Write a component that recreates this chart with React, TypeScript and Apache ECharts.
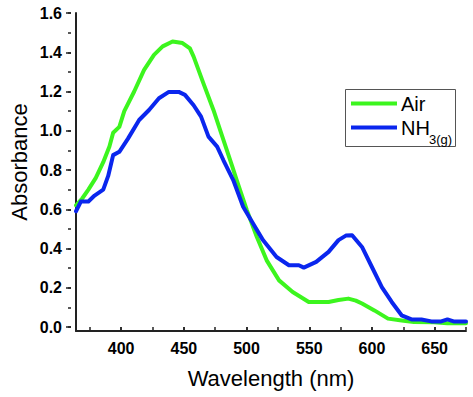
import React, { useEffect, useRef } from "react";
import * as echarts from "echarts";

// ---- Data ----
const airWavelength = [360, 365, 370, 376, 382, 387, 390, 395, 399, 407, 415, 423, 430, 438, 446, 452, 455, 463, 471, 479, 486, 490, 498, 506, 514, 524, 535, 548, 564, 572, 580, 586, 591, 601, 612, 623, 633, 649, 660, 675];
const airAbsorbance = [0.62, 0.655, 0.7, 0.76, 0.84, 0.92, 0.99, 1.02, 1.1, 1.2, 1.31, 1.387, 1.43, 1.455, 1.447, 1.42, 1.378, 1.24, 1.106, 0.955, 0.822, 0.745, 0.596, 0.46, 0.34, 0.238, 0.179, 0.128, 0.128, 0.138, 0.145, 0.135, 0.12, 0.085, 0.043, 0.034, 0.026, 0.024, 0.02, 0.02];

const nh3Wavelength = [360, 364, 370, 375, 382, 386, 390, 395, 402, 411, 419, 427, 435, 443, 448, 455, 461, 467, 474, 479, 483, 487, 495, 503, 511, 522, 532, 540, 544, 554, 564, 572, 578, 583, 591, 599, 607, 615, 623, 631, 639, 647, 655, 660, 665, 675];
const nh3Absorbance = [0.59, 0.64, 0.64, 0.67, 0.7, 0.77, 0.876, 0.893, 0.96, 1.055, 1.106, 1.166, 1.198, 1.198, 1.183, 1.13, 1.072, 0.97, 0.919, 0.851, 0.8, 0.749, 0.613, 0.528, 0.443, 0.357, 0.315, 0.315, 0.303, 0.332, 0.383, 0.443, 0.466, 0.468, 0.408, 0.306, 0.204, 0.128, 0.06, 0.039, 0.039, 0.029, 0.029, 0.039, 0.029, 0.029];

const seriesNames = ["Air", "NH3(g)"];
const xTitle = "Wavelength (nm)";
const yTitle = "Absorbance";

// ---- Layout / style ----
const CW = 473;
const CH = 397;
const X_MIN = 360;
const X_MAX = 675;
const Y_MIN = -0.02;
const Y_MAX = 1.6;
const L = 71;
const R = 7;
const T = 13;
const B = 66;
const kx = (CW - L - R) / (X_MAX - X_MIN);
const ky = (CH - T - B) / (Y_MAX - Y_MIN);
const yZeroOff = (0 - Y_MIN) * ky;

const GREEN = "#3CF51E";
const BLUE = "#0A26EE";
const AXIS = "#222";
const FONT = "'Liberation Sans', Arial, sans-serif";

const zip = (xs: number[], ys: number[]) => xs.map((x, i) => [x, ys[i]]);

export default function App() {
  const ref = useRef<HTMLDivElement>(null);
  useEffect(() => {
    if (!ref.current) return;
    const chart = echarts.init(ref.current, undefined, { renderer: "svg" });
    const hidden = { show: false };
    const tickLabel = { fontFamily: FONT, fontWeight: "bold" as const, fontSize: 16, color: "#000" };
    chart.setOption({
      animation: false,
      backgroundColor: "#fff",
      grid: [
        { left: L, right: R, top: T, bottom: B },
        { left: L + (375 - X_MIN) * kx, right: R, top: T, bottom: B + yZeroOff },
        { left: L + (400 - X_MIN) * kx, right: R + (X_MAX - 650) * kx, top: T, bottom: B + yZeroOff },
      ],
      xAxis: [
        {
          type: "value", gridIndex: 0, min: X_MIN, max: X_MAX,
          axisLine: { show: true, onZero: false, lineStyle: { color: AXIS, width: 2 } },
          axisTick: hidden, axisLabel: hidden, splitLine: hidden,
          name: xTitle, nameLocation: "middle", nameGap: 36,
          nameTextStyle: { fontFamily: FONT, fontSize: 22, color: "#000" },
        },
        {
          type: "value", gridIndex: 1, min: 375, max: 675, interval: 25, offset: yZeroOff,
          axisLine: hidden, axisLabel: hidden, splitLine: hidden,
          axisTick: { show: true, length: 3, lineStyle: { color: AXIS, width: 1.5 } },
        },
        {
          type: "value", gridIndex: 2, min: 400, max: 650, interval: 50, offset: yZeroOff,
          axisLine: hidden, splitLine: hidden,
          axisTick: { show: true, length: 5, lineStyle: { color: AXIS, width: 1.5 } },
          axisLabel: { ...tickLabel, margin: 9 },
        },
      ],
      yAxis: [
        {
          type: "value", gridIndex: 0, min: Y_MIN, max: Y_MAX,
          axisLine: { show: true, onZero: false, lineStyle: { color: AXIS, width: 2 } },
          axisTick: hidden, axisLabel: hidden, splitLine: hidden,
          name: yTitle, nameLocation: "middle", nameGap: 46, nameRotate: 90,
          nameTextStyle: { fontFamily: FONT, fontSize: 22, color: "#000", padding: [0, 0, 0, 20] },
        },
        {
          type: "value", gridIndex: 1, min: 0, max: 1.6, interval: 0.1, offset: (375 - X_MIN) * kx,
          axisLine: hidden, axisLabel: hidden, splitLine: hidden,
          axisTick: { show: true, length: 3, lineStyle: { color: AXIS, width: 1.5 } },
        },
        {
          type: "value", gridIndex: 2, min: 0, max: 1.6, interval: 0.2, offset: (400 - X_MIN) * kx,
          axisLine: hidden, splitLine: hidden,
          axisTick: { show: true, length: 5, lineStyle: { color: AXIS, width: 1.5 } },
          axisLabel: { ...tickLabel, margin: 9, formatter: (v: number) => v.toFixed(1) },
        },
      ],
      series: [
        {
          name: seriesNames[0], type: "line", xAxisIndex: 0, yAxisIndex: 0,
          data: zip(airWavelength, airAbsorbance), symbol: "none",
          lineStyle: { color: GREEN, width: 4, join: "round", cap: "round" },
        },
        {
          name: seriesNames[1], type: "line", xAxisIndex: 0, yAxisIndex: 0,
          data: zip(nh3Wavelength, nh3Absorbance), symbol: "none",
          lineStyle: { color: BLUE, width: 4, join: "round", cap: "round" },
        },
      ],
      graphic: [
        {
          type: "group", left: 345, top: 89,
          children: [
            { type: "rect", shape: { x: 0.5, y: 0.5, width: 110, height: 57 }, style: { fill: "#fff", stroke: "#555", lineWidth: 1 } },
            { type: "line", shape: { x1: 6, y1: 14.5, x2: 52, y2: 14.5 }, style: { stroke: GREEN, lineWidth: 4 } },
            { type: "line", shape: { x1: 6, y1: 38.5, x2: 52, y2: 38.5 }, style: { stroke: BLUE, lineWidth: 4 } },
            { type: "text", x: 56, y: 14.5, style: { text: "Air", fontFamily: FONT, fontSize: 20, fill: "#000", verticalAlign: "middle" } },
            { type: "text", x: 56, y: 38.5, style: { text: "NH", fontFamily: FONT, fontSize: 20, fill: "#000", verticalAlign: "middle" } },
            { type: "text", x: 84, y: 50, style: { text: "3(g)", fontFamily: FONT, fontSize: 13, fill: "#000", verticalAlign: "middle" } },
          ],
        },
      ],
    });
    return () => chart.dispose();
  }, []);
  return <div ref={ref} style={{ position: "fixed", left: 0, top: 0, width: CW, height: CH, background: "#fff" }} />;
}
